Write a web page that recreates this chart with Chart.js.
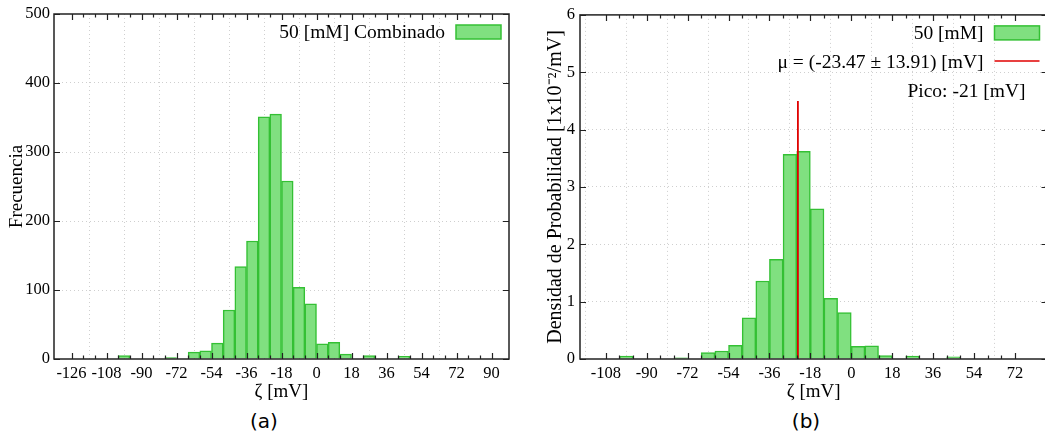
<!DOCTYPE html>
<html>
<head>
<meta charset="utf-8">
<script src="https://cdn.jsdelivr.net/npm/chart.js@4.4.1/dist/chart.umd.min.js"></script>
<style>
  html, body { margin: 0; padding: 0; background: #fff; overflow: hidden; }
  #wrap { position: relative; width: 1045px; height: 437px; overflow: hidden; }
  canvas { position: absolute; top: 0; }
  .sub { position: absolute; top: 409px; line-height: 24px; font: 20px "DejaVu Sans", sans-serif; transform: translateX(-50%); }
</style>
</head>
<body>
<div id="wrap">
  <canvas id="chartA" width="522" height="405" style="left:0"></canvas>
  <canvas id="chartB" width="530" height="405" style="left:522px"></canvas>
  <div class="sub" style="left:264px">(a)</div>
  <div class="sub" style="left:806px">(b)</div>
</div>
<script>
// histogram bins (centres, width 6 mV)
const binCenters = [-99, -75, -63, -57, -51, -45, -39, -33, -27, -21, -15, -9, -3, 3, 9, 15, 27, 45];
const countsCombined = [5, 2, 10, 12, 23, 71, 134, 171, 351, 355, 258, 104, 80, 22, 24, 7, 5, 4];
const densityB = [0.05, 0.02, 0.11, 0.14, 0.24, 0.72, 1.36, 1.74, 3.57, 3.62, 2.62, 1.06, 0.81, 0.22, 0.23, 0.06, 0.05, 0.04];

const meanZeta = -23.47;
const meanLineTop = 4.5;

const xTicksA = [-126, -108, -90, -72, -54, -36, -18, 0, 18, 36, 54, 72, 90];
const yTicksA = [0, 100, 200, 300, 400, 500];
const xTicksB = [-108, -90, -72, -54, -36, -18, 0, 18, 36, 54, 72];
const yTicksB = [0, 1, 2, 3, 4, 5, 6];

const labelA = "50 [mM] Combinado";
const labelB = "50 [mM]";
const labelMean = "μ = (-23.47 ± 13.91) [mV]";
const labelPeak = "Pico: -21 [mV]";

const barFill = "#80e080";
const barEdge = "#34c034";
const serif = '"Liberation Serif", "Times New Roman", serif';

Chart.defaults.font.family = serif;
Chart.defaults.color = "#000";

// gnuplot style border with inward ticks
const frame = {
  id: "frame",
  afterDatasetsDraw(chart) {
    const { ctx, chartArea: a, scales: { x, y } } = chart;
    ctx.save();
    ctx.strokeStyle = "#222";
    ctx.lineWidth = 1.2;
    ctx.beginPath();
    x.ticks.forEach(t => {
      const px = Math.round(x.getPixelForValue(t.value)) + 0.5;
      ctx.moveTo(px, a.bottom); ctx.lineTo(px, a.bottom - 6);
      ctx.moveTo(px, a.top); ctx.lineTo(px, a.top + 6);
    });
    for (let v = Math.ceil(x.min / 6) * 6; v <= x.max; v += 6) {
      const px = Math.round(x.getPixelForValue(v)) + 0.5;
      ctx.moveTo(px, a.bottom); ctx.lineTo(px, a.bottom - 3.5);
      ctx.moveTo(px, a.top); ctx.lineTo(px, a.top + 3.5);
    }
    y.ticks.forEach(t => {
      const py = Math.round(y.getPixelForValue(t.value)) + 0.5;
      ctx.moveTo(a.left, py); ctx.lineTo(a.left + 6, py);
      ctx.moveTo(a.right, py); ctx.lineTo(a.right - 6, py);
    });
    ctx.stroke();
    ctx.lineWidth = 1.5;
    ctx.strokeRect(a.left, a.top, a.width, a.height);
    ctx.restore();
  }
};

// key drawn inside the plot, text left of sample
const keyBox = {
  id: "keyBox",
  afterDraw(chart, args, opts) {
    const { ctx, chartArea: a } = chart;
    ctx.save();
    ctx.font = "19.5px " + serif;
    ctx.textBaseline = "middle";
    ctx.textAlign = "right";
    ctx.fillStyle = "#000";
    (opts.rows || []).forEach((row, i) => {
      const yc = a.top + 19 + i * 29;
      if (row.ds === undefined) {
        ctx.fillText(row.text, a.right - 22, yc);
        return;
      }
      const ds = chart.data.datasets[row.ds];
      ctx.fillStyle = "#000";
      ctx.fillText(ds.label, a.right - 64, yc);
      if (ds.type === "line") {
        ctx.strokeStyle = ds.borderColor;
        ctx.lineWidth = 1.5;
        ctx.beginPath();
        ctx.moveTo(a.right - 53, yc - 2); ctx.lineTo(a.right - 8, yc - 2);
        ctx.stroke();
      } else {
        ctx.fillStyle = ds.backgroundColor;
        ctx.fillRect(a.right - 53, yc - 8, 45, 14);
        ctx.strokeStyle = ds.borderColor;
        ctx.lineWidth = 1.5;
        ctx.strokeRect(a.right - 53, yc - 8, 45, 14);
      }
    });
    ctx.restore();
  }
};

function gridColor(c) {
  if (!c.tick) return "transparent";
  if (c.tick.value === c.scale.min || c.tick.value === c.scale.max) return "transparent";
  return "#cfcfcf";
}

function makeScales(xTicks, yTicks, xmin, xmax, ymax, yTitle, yTitleSize, yWidth, yTitlePad, yTickPad) {
  return {
    x: {
      type: "linear", min: xmin, max: xmax,
      afterBuildTicks: s => { s.ticks = xTicks.map(v => ({ value: v })); },
      afterFit: s => { s.height = 46; },
      grid: { color: gridColor, drawTicks: false, lineWidth: 1 },
      border: { display: false, dash: [1, 3] },
      ticks: { autoSkip: false, maxRotation: 0, padding: 5, font: { size: 16.5 }, callback: v => String(v) },
      title: { display: true, text: "ζ [mV]", font: { size: 19, lineHeight: 1 }, padding: { top: 0, bottom: 3 } }
    },
    y: {
      min: 0, max: ymax,
      afterBuildTicks: s => { s.ticks = yTicks.map(v => ({ value: v })); },
      afterFit: s => { s.width = yWidth; },
      grid: { color: gridColor, drawTicks: false, lineWidth: 1 },
      border: { display: false, dash: [1, 3] },
      ticks: { padding: yTickPad, font: { size: 16.5 }, callback: v => String(v) },
      title: { display: true, text: yTitle, font: { size: yTitleSize, lineHeight: 1 }, padding: { top: yTitlePad, bottom: 0 } }
    }
  };
}

const common = {
  responsive: false,
  animation: false,
  events: [],
  plugins: { legend: { display: false }, tooltip: { enabled: false } }
};

new Chart(document.getElementById("chartA"), {
  type: "bar",
  data: {
    datasets: [{
      label: labelA,
      data: binCenters.map((c, i) => ({ x: c, y: countsCombined[i] })),
      backgroundColor: barFill,
      borderColor: barEdge,
      borderWidth: 1.5,
      barPercentage: 1,
      categoryPercentage: 1
    }]
  },
  options: Object.assign({}, common, {
    layout: { padding: { top: 14, right: 13, left: 0, bottom: 0 } },
    scales: makeScales(xTicksA, yTicksA, -126, 90, 500, "Frecuencia", 19, 54, 7.5, 4),
    plugins: Object.assign({}, common.plugins, { keyBox: { rows: [{ ds: 0 }] } })
  }),
  plugins: [frame, keyBox]
});

new Chart(document.getElementById("chartB"), {
  type: "bar",
  data: {
    datasets: [{
      label: labelB,
      data: binCenters.map((c, i) => ({ x: c, y: densityB[i] })),
      backgroundColor: barFill,
      borderColor: barEdge,
      borderWidth: 1.5,
      barPercentage: 1,
      categoryPercentage: 1,
      order: 1
    }, {
      type: "line",
      label: labelMean,
      data: [{ x: meanZeta, y: 0 }, { x: meanZeta, y: meanLineTop }],
      borderColor: "#e00000",
      borderWidth: 1.8,
      pointRadius: 0,
      order: 0
    }]
  },
  options: Object.assign({}, common, {
    layout: { padding: { top: 14, right: 4.5, left: 0, bottom: 0 } },
    scales: makeScales(xTicksB, yTicksB, -110, 77, 6, "Densidad de Probabilidad [1x10⁻²/mV]", 20, 58, 24, 5),
    plugins: Object.assign({}, common.plugins, { keyBox: { rows: [{ ds: 0 }, { ds: 1 }, { text: labelPeak }] } })
  }),
  plugins: [frame, keyBox]
});
</script>
</body>
</html>
